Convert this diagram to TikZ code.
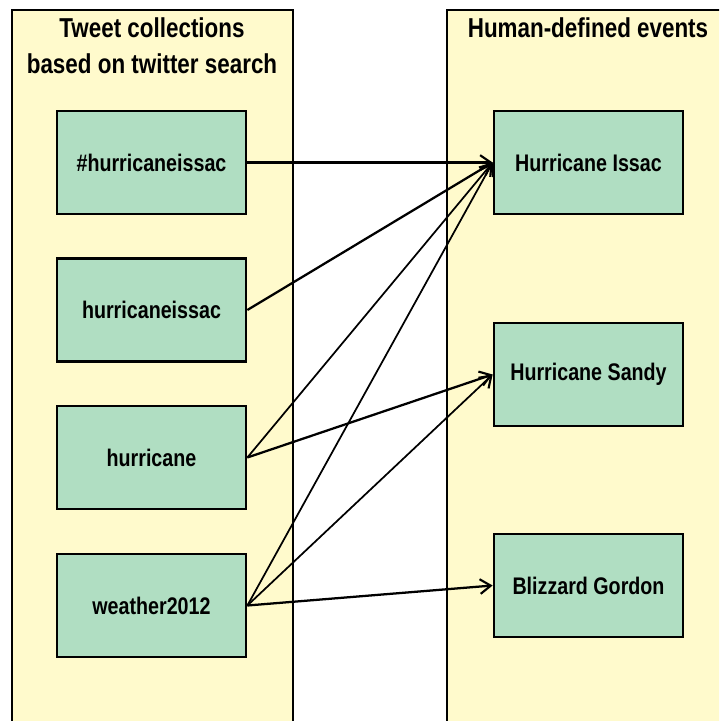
\documentclass[tikz,border=0pt]{standalone}
\usepackage{fontspec}
\setmainfont[FakeStretch=0.82]{Liberation Sans}
\usetikzlibrary{arrows.meta}
\definecolor{panelfill}{HTML}{FFFACC}
\definecolor{boxfill}{HTML}{B0DEC2}
\tikzset{
  panel/.style={draw=black, line width=1.4pt, fill=panelfill},
  item/.style={draw=black, line width=1.8pt, fill=boxfill, minimum width=142pt,
    minimum height=77pt, inner sep=0pt, font=\bfseries\fontsize{18pt}{20pt}\selectfont},
  title/.style={align=center, font=\bfseries\fontsize{20.5pt}{27pt}\selectfont},
  link/.style={line width=1.7pt, -{Straight Barb[length=8pt, width=11pt, line width=1.6pt]}},
  thinlink/.style={link, line width=1.3pt}
}
\begin{document}
\begin{tikzpicture}[x=0.75pt, y=-0.75pt]
\useasboundingbox (0,0) rectangle (719,721);
\begin{scope}
  \clip (0,0) rectangle (719,721);
  \draw[panel] (12,10) rectangle (293,760);
  \draw[panel] (447,10) rectangle (760,760);
\end{scope}

% column headings
\node[title] (tleft) at (152,46) {Tweet collections\\based on twitter search};
\node[title] (tright) at (588,28) {Human-defined events};

% search-based collections
\node[item] (s1) at (151.5,162.5) {\#hurricaneissac};
\node[item] (s2) at (151.5,310) {hurricaneissac};
\node[item] (s3) at (151.5,457.5) {hurricane};
\node[item] (s4) at (151.5,605.5) {weather2012};

% events
\node[item] (e1) at (588.5,162.5) {Hurricane Issac};
\node[item] (e2) at (588.5,374.5) {Hurricane Sandy};
\node[item] (e3) at (588.5,585.5) {Blizzard Gordon};

% mappings
\draw[link] (s1.east) -- (e1.west);
\draw[link] (s2.east) -- (e1.west);
\draw[thinlink] (s3.east) -- (e1.west);
\draw[link] (s3.east) -- (e2.west);
\draw[thinlink] (s4.east) -- (e1.west);
\draw[thinlink] (s4.east) -- (e2.west);
\draw[link] (s4.east) -- (e3.west);
\end{tikzpicture}
\end{document}
